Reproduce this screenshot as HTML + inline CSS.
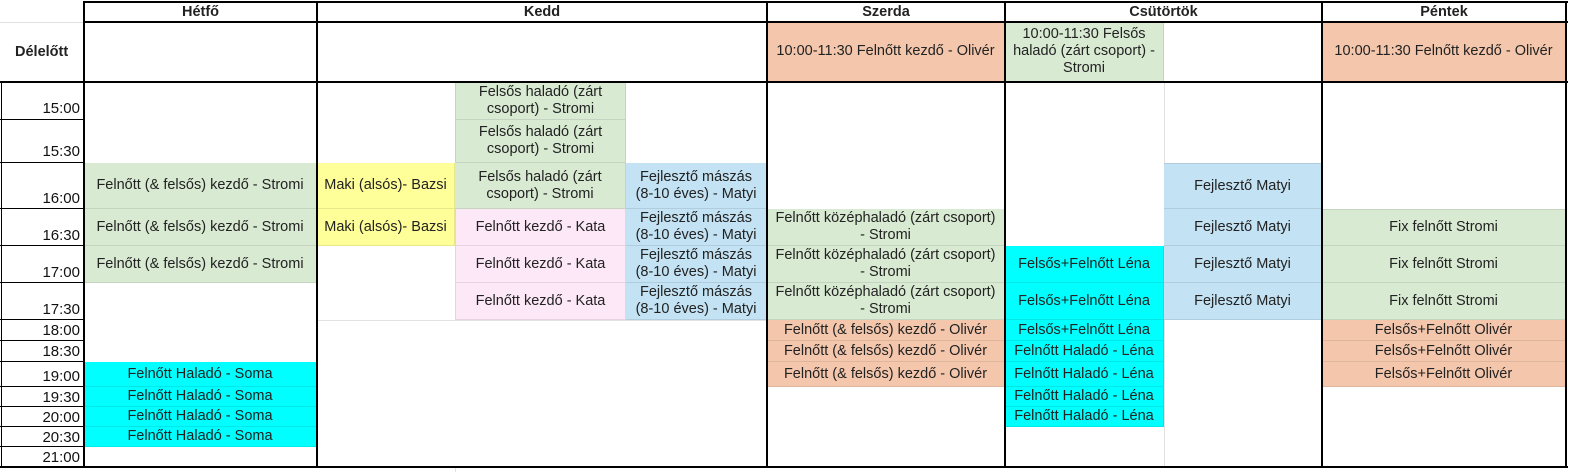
<!DOCTYPE html>
<html><head><meta charset="utf-8"><style>
body{margin:0;width:1574px;height:472px;background:#fff;position:relative;overflow:hidden;font-family:"Liberation Sans",Arial,sans-serif}
.c{position:absolute;display:flex;align-items:center;justify-content:center;text-align:center;font-size:14.5px;line-height:17px;color:#222;box-sizing:border-box;border-right:1px solid rgba(0,0,0,.09);border-bottom:1px solid rgba(0,0,0,.09);white-space:nowrap}
.g{background:#d9ead3}.y{background:#ffff99}.p{background:#fde8f8}.b{background:#c3e2f3}.cy{background:#00ffff}.s{background:#f4c7ad}
.h{font-weight:bold;font-size:14.5px}
.t{position:absolute;left:0;width:84px;text-align:right;font-size:15px;color:#111;box-sizing:border-box;padding-right:4px;border-bottom:1px solid #000}
.k{position:absolute;background:#000}
.l{position:absolute;background:#e2e2e2}
</style></head><body>
<div class="l" style="left:0;top:22px;width:84px;height:1px"></div>
<div class="l" style="left:317px;top:320px;width:450px;height:1px"></div>
<div class="l" style="left:1164px;top:82px;width:1px;height:385px"></div>
<div class="l" style="left:455px;top:467px;width:1px;height:5px"></div>

<div class="c h" style="left:84px;top:2px;width:233px;height:20px;border:none">Hétfő</div>
<div class="c h" style="left:317px;top:2px;width:450px;height:20px;border:none">Kedd</div>
<div class="c h" style="left:767px;top:2px;width:238px;height:20px;border:none">Szerda</div>
<div class="c h" style="left:1005px;top:2px;width:317px;height:20px;border:none">Csütörtök</div>
<div class="c h" style="left:1322px;top:2px;width:244px;height:20px;border:none">Péntek</div>
<div class="c h" style="left:0;top:22px;width:84px;height:60px;border:none;justify-content:flex-start;padding-left:15px">Délelőtt</div>

<div class="c s" style="left:767px;top:22px;width:238px;height:60px">10:00-11:30 Felnőtt kezdő - Olivér</div>
<div class="c g" style="left:1005px;top:22px;width:159px;height:60px">10:00-11:30 Felsős<br>haladó (zárt csoport) -<br>Stromi</div>
<div class="c s" style="left:1322px;top:22px;width:244px;height:60px">10:00-11:30 Felnőtt kezdő - Olivér</div>

<div class="t" style="top:82px;height:38px;line-height:54px">15:00</div>
<div class="t" style="top:120px;height:43px;line-height:64px">15:30</div>
<div class="t" style="top:163px;height:46px;line-height:72px">16:00</div>
<div class="t" style="top:209px;height:37px;line-height:54px">16:30</div>
<div class="t" style="top:246px;height:37px;line-height:54px">17:00</div>
<div class="t" style="top:283px;height:37px;line-height:54px">17:30</div>
<div class="t" style="top:320px;height:21px;line-height:22px">18:00</div>
<div class="t" style="top:341px;height:21px;line-height:22px">18:30</div>
<div class="t" style="top:362px;height:25px;line-height:30px">19:00</div>
<div class="t" style="top:387px;height:20px;line-height:22px">19:30</div>
<div class="t" style="top:407px;height:20px;line-height:22px">20:00</div>
<div class="t" style="top:427px;height:20px;line-height:22px">20:30</div>
<div class="t" style="top:447px;height:20px;line-height:22px;border:none">21:00</div>

<div class="c g" style="left:84px;top:163px;width:233px;height:46px">Felnőtt (&amp; felsős) kezdő - Stromi</div>
<div class="c g" style="left:84px;top:209px;width:233px;height:37px">Felnőtt (&amp; felsős) kezdő - Stromi</div>
<div class="c g" style="left:84px;top:246px;width:233px;height:37px">Felnőtt (&amp; felsős) kezdő - Stromi</div>
<div class="c cy" style="left:84px;top:362px;width:233px;height:25px">Felnőtt Haladó - Soma</div>
<div class="c cy" style="left:84px;top:387px;width:233px;height:20px">Felnőtt Haladó - Soma</div>
<div class="c cy" style="left:84px;top:407px;width:233px;height:20px">Felnőtt Haladó - Soma</div>
<div class="c cy" style="left:84px;top:427px;width:233px;height:20px">Felnőtt Haladó - Soma</div>

<div class="c y" style="left:317px;top:163px;width:138px;height:46px">Maki (alsós)- Bazsi</div>
<div class="c y" style="left:317px;top:209px;width:138px;height:37px">Maki (alsós)- Bazsi</div>
<div class="c g" style="left:455px;top:82px;width:171px;height:38px;border-left:1px solid rgba(0,0,0,.09)">Felsős haladó (zárt<br>csoport) - Stromi</div>
<div class="c g" style="left:455px;top:120px;width:171px;height:43px;border-left:1px solid rgba(0,0,0,.09)">Felsős haladó (zárt<br>csoport) - Stromi</div>
<div class="c g" style="left:455px;top:163px;width:171px;height:46px">Felsős haladó (zárt<br>csoport) - Stromi</div>
<div class="c p" style="left:455px;top:209px;width:171px;height:37px;border-left:1px solid rgba(0,0,0,.09)">Felnőtt kezdő - Kata</div>
<div class="c p" style="left:455px;top:246px;width:171px;height:37px;border-left:1px solid rgba(0,0,0,.09)">Felnőtt kezdő - Kata</div>
<div class="c p" style="left:455px;top:283px;width:171px;height:37px;border-left:1px solid rgba(0,0,0,.09)">Felnőtt kezdő - Kata</div>
<div class="c b" style="left:626px;top:163px;width:141px;height:46px">Fejlesztő mászás<br>(8-10 éves) - Matyi</div>
<div class="c b" style="left:626px;top:209px;width:141px;height:37px">Fejlesztő mászás<br>(8-10 éves) - Matyi</div>
<div class="c b" style="left:626px;top:246px;width:141px;height:37px">Fejlesztő mászás<br>(8-10 éves) - Matyi</div>
<div class="c b" style="left:626px;top:283px;width:141px;height:37px">Fejlesztő mászás<br>(8-10 éves) - Matyi</div>

<div class="c g" style="left:767px;top:209px;width:238px;height:37px">Felnőtt középhaladó (zárt csoport)<br>- Stromi</div>
<div class="c g" style="left:767px;top:246px;width:238px;height:37px">Felnőtt középhaladó (zárt csoport)<br>- Stromi</div>
<div class="c g" style="left:767px;top:283px;width:238px;height:37px">Felnőtt középhaladó (zárt csoport)<br>- Stromi</div>
<div class="c s" style="left:767px;top:320px;width:238px;height:21px">Felnőtt (&amp; felsős) kezdő - Olivér</div>
<div class="c s" style="left:767px;top:341px;width:238px;height:21px">Felnőtt (&amp; felsős) kezdő - Olivér</div>
<div class="c s" style="left:767px;top:362px;width:238px;height:25px">Felnőtt (&amp; felsős) kezdő - Olivér</div>

<div class="c cy" style="left:1005px;top:246px;width:159px;height:37px">Felsős+Felnőtt Léna</div>
<div class="c cy" style="left:1005px;top:283px;width:159px;height:37px">Felsős+Felnőtt Léna</div>
<div class="c cy" style="left:1005px;top:320px;width:159px;height:21px">Felsős+Felnőtt Léna</div>
<div class="c cy" style="left:1005px;top:341px;width:159px;height:21px">Felnőtt Haladó - Léna</div>
<div class="c cy" style="left:1005px;top:362px;width:159px;height:25px">Felnőtt Haladó - Léna</div>
<div class="c cy" style="left:1005px;top:387px;width:159px;height:20px">Felnőtt Haladó - Léna</div>
<div class="c cy" style="left:1005px;top:407px;width:159px;height:20px">Felnőtt Haladó - Léna</div>
<div class="c b" style="left:1164px;top:163px;width:158px;height:46px;border-top:1px solid rgba(0,0,0,.09)">Fejlesztő Matyi</div>
<div class="c b" style="left:1164px;top:209px;width:158px;height:37px">Fejlesztő Matyi</div>
<div class="c b" style="left:1164px;top:246px;width:158px;height:37px">Fejlesztő Matyi</div>
<div class="c b" style="left:1164px;top:283px;width:158px;height:37px">Fejlesztő Matyi</div>

<div class="c g" style="left:1322px;top:209px;width:244px;height:37px;border-top:1px solid rgba(0,0,0,.09)">Fix felnőtt Stromi</div>
<div class="c g" style="left:1322px;top:246px;width:244px;height:37px">Fix felnőtt Stromi</div>
<div class="c g" style="left:1322px;top:283px;width:244px;height:37px">Fix felnőtt Stromi</div>
<div class="c s" style="left:1322px;top:320px;width:244px;height:21px">Felsős+Felnőtt Olivér</div>
<div class="c s" style="left:1322px;top:341px;width:244px;height:21px">Felsős+Felnőtt Olivér</div>
<div class="c s" style="left:1322px;top:362px;width:244px;height:25px">Felsős+Felnőtt Olivér</div>

<div class="k" style="left:84px;top:1px;width:1484px;height:2px"></div>
<div class="k" style="left:84px;top:21px;width:1484px;height:2px"></div>
<div class="k" style="left:0;top:81px;width:1568px;height:2px"></div>
<div class="k" style="left:0;top:466px;width:1568px;height:2px"></div>
<div class="k" style="left:1px;top:82px;width:1px;height:385px"></div>
<div class="k" style="left:83px;top:1px;width:2px;height:467px"></div>
<div class="k" style="left:316px;top:1px;width:2px;height:467px"></div>
<div class="k" style="left:766px;top:1px;width:2px;height:467px"></div>
<div class="k" style="left:1004px;top:1px;width:2px;height:467px"></div>
<div class="k" style="left:1321px;top:1px;width:2px;height:467px"></div>
<div class="k" style="left:1565px;top:1px;width:2px;height:467px"></div>
</body></html>
